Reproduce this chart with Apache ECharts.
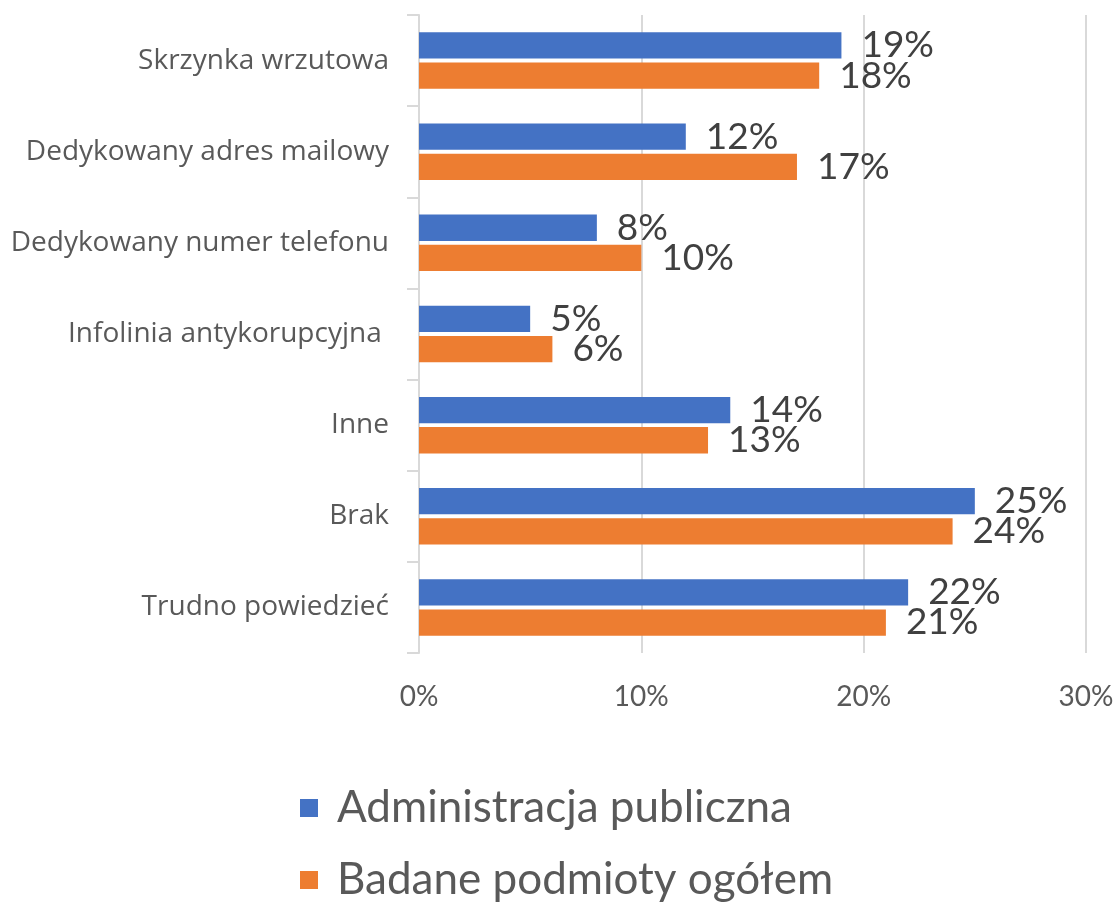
<!DOCTYPE html>
<html>
<head>
<meta charset="utf-8">
<script src="https://cdn.jsdelivr.net/npm/echarts@6/dist/echarts.min.js"></script>
<style>
    html, body { margin: 0; padding: 0; background: #fff; }
    #chart { width: 1117px; height: 902px; }
</style>
</head>
<body>
<div id="chart"></div>
<script>
var kategorie = ['Skrzynka wrzutowa', 'Dedykowany adres mailowy', 'Dedykowany numer telefonu',
    'Infolinia antykorupcyjna ', 'Inne', 'Brak', 'Trudno powiedzieć'];
var administracja = [19, 12, 8, 5, 14, 25, 22];
var ogolem = [18, 17, 10, 6, 13, 24, 21];
var osX = [0, 10, 20, 30];

var font = 'Lato, "Open Sans", sans-serif';
var fontKat = '"Open Sans", Lato, sans-serif';

var chart = echarts.init(document.getElementById('chart'));

var option = {
    animation: false,
    textStyle: { fontFamily: font },
    grid: { left: 419, right: 31, top: 15, bottom: 249, containLabel: false },
    xAxis: {
        type: 'value',
        min: osX[0],
        max: osX[osX.length - 1],
        interval: 10,
        axisLine: { show: false },
        axisTick: { show: false },
        splitLine: { lineStyle: { color: '#d9d9d9', width: 2 } },
        axisLabel: {
            margin: 30,
            fontSize: 28,
            color: '#595959',
            fontFamily: font,
            formatter: '{value}%'
        }
    },
    yAxis: {
        type: 'category',
        inverse: true,
        data: kategorie,
        axisLine: { show: true, lineStyle: { color: '#d9d9d9', width: 2 } },
        axisTick: { show: true, length: 12, lineStyle: { color: '#d9d9d9', width: 2 } },
        axisLabel: { margin: 30, fontSize: 28, color: '#595959', fontFamily: fontKat }
    },
    legend: {
        orient: 'vertical',
        left: 300,
        top: 783,
        height: 200,
        padding: 0,
        itemWidth: 18,
        itemHeight: 18,
        itemGap: 22,
        icon: 'rect',
        textStyle: { fontSize: 44, lineHeight: 50, color: '#595959', fontFamily: font, padding: [0, 0, 0, 14] },
        data: ['Administracja publiczna', 'Badane podmioty ogółem']
    },
    series: [
        {
            name: 'Administracja publiczna',
            type: 'bar',
            data: administracja,
            barGap: '15%',
            barCategoryGap: '38%',
            itemStyle: { color: '#4472c4' },
            label: {
                show: true,
                position: 'right',
                distance: 20,
                fontSize: 37,
                color: '#404040',
                fontFamily: font,
                formatter: '{c}%'
            }
        },
        {
            name: 'Badane podmioty ogółem',
            type: 'bar',
            data: ogolem,
            barGap: '15%',
            barCategoryGap: '38%',
            itemStyle: { color: '#ed7d31' },
            label: {
                show: true,
                position: 'right',
                distance: 20,
                fontSize: 37,
                color: '#404040',
                fontFamily: font,
                formatter: '{c}%'
            }
        }
    ]
};

chart.setOption(option);
</script>
</body>
</html>
